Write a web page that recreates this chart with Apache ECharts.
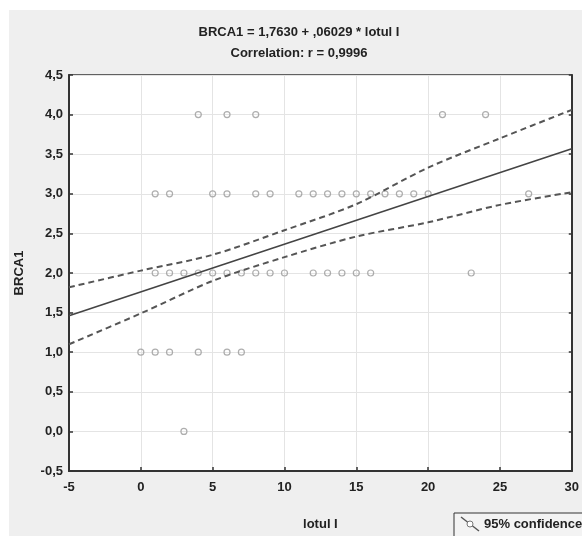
<!DOCTYPE html>
<html>
<head>
<meta charset="utf-8">
<script src="https://cdn.jsdelivr.net/npm/echarts@6/dist/echarts.min.js"></script>
<style>
html,body{margin:0;padding:0;background:#ffffff;}
#chart{width:582px;height:536px;}
</style>
</head>
<body>
<div id="chart"></div>
<script>
// Observed points, grouped by BRCA1 value
const lotulAt4 = [4, 6, 8, 21, 24];
const lotulAt3 = [1, 2, 5, 6, 8, 9, 11, 12, 13, 14, 15, 16, 17, 18, 19, 20, 27];
const lotulAt2 = [1, 2, 3, 4, 5, 6, 7, 8, 9, 10, 12, 13, 14, 15, 16, 23];
const lotulAt1 = [0, 1, 2, 4, 6, 7];
const lotulAt0 = [3];

const fitX = [-5, 30];
const fitY = [1.46, 3.57];

// 95% confidence band
const bandX = [-5, 0, 5, 10, 15, 20, 25, 30];
const bandUpper = [1.82, 2.03, 2.23, 2.54, 2.87, 3.33, 3.70, 4.06];
const bandLower = [1.10, 1.49, 1.90, 2.20, 2.46, 2.64, 2.86, 3.02];

// Axis ticks
const xMin = -5, xMax = 30, xStep = 5;
const yMin = -0.5, yMax = 4.5, yStep = 0.5;

const titleLine1 = 'BRCA1 = 1,7630 + ,06029 * lotul I';
const titleLine2 = 'Correlation: r = 0,9996';

const pts = [];
[[4, lotulAt4], [3, lotulAt3], [2, lotulAt2], [1, lotulAt1], [0, lotulAt0]].forEach(([y, xs]) => {
  xs.forEach(x => pts.push([x, y]));
});
const zip = (a, b) => a.map((v, i) => [v, b[i]]);

const FONT = '"Liberation Sans", Arial, sans-serif';
const TXT = '#222';
const chart = echarts.init(document.getElementById('chart'), null, {renderer: 'canvas'});
const option = {
  backgroundColor: '#ffffff',
  animation: false,
  textStyle: {fontFamily: FONT},
  graphic: [
    {type: 'rect', z: -100, shape: {x: 9, y: 10, width: 573, height: 526}, style: {fill: '#efefef'}},
    {type: 'text', x: 299, y: 32, style: {text: titleLine1, font: 'bold 13px ' + FONT, fill: TXT, textAlign: 'center', textVerticalAlign: 'middle'}},
    {type: 'text', x: 299, y: 53, style: {text: titleLine2, font: 'bold 13px ' + FONT, fill: TXT, textAlign: 'center', textVerticalAlign: 'middle'}},
    {type: 'rect', shape: {x: 454, y: 513, width: 140, height: 30}, style: {fill: '#f3f3f3', stroke: '#333', lineWidth: 1}},
    {type: 'line', shape: {x1: 461, y1: 517, x2: 479, y2: 531}, style: {stroke: '#555', lineWidth: 1.5}},
    {type: 'circle', shape: {cx: 470, cy: 524, r: 3}, style: {fill: '#fff', stroke: '#777', lineWidth: 1}},
    {type: 'text', x: 484, y: 524, style: {text: '95% confidence', font: 'bold 13px ' + FONT, fill: TXT, textAlign: 'left', textVerticalAlign: 'middle'}}
  ],
  grid: {left: 69, right: 9, top: 75, bottom: 61, show: true, backgroundColor: '#ffffff', borderColor: '#333', borderWidth: 1.5},
  xAxis: {
    type: 'value', min: xMin, max: xMax, interval: xStep,
    name: 'lotul I', nameLocation: 'middle', nameGap: 47,
    nameTextStyle: {fontSize: 13, fontWeight: 'bold', color: TXT, fontFamily: FONT},
    axisLine: {show: true, onZero: false, lineStyle: {color: '#333', width: 2}},
    axisTick: {show: true, inside: true, length: 4, lineStyle: {color: '#333', width: 1.5}},
    axisLabel: {fontSize: 13, fontWeight: 'bold', color: TXT, margin: 10, fontFamily: FONT},
    splitLine: {show: true, lineStyle: {color: '#e4e4e4', width: 1}}
  },
  yAxis: [{
    type: 'value', min: yMin, max: yMax, interval: yStep,
    name: 'BRCA1', nameLocation: 'middle', nameGap: 43, nameRotate: 90,
    nameTextStyle: {fontSize: 13, fontWeight: 'bold', color: TXT, fontFamily: FONT},
    axisLine: {show: true, onZero: false, lineStyle: {color: '#333', width: 2}},
    axisTick: {show: true, inside: true, length: 4, lineStyle: {color: '#333', width: 1.5}},
    axisLabel: {fontSize: 13, fontWeight: 'bold', color: TXT, margin: 6, fontFamily: FONT,
      formatter: v => v.toFixed(1).replace('.', ',')},
    splitLine: {show: true, lineStyle: {color: '#e4e4e4', width: 1}}
  }, {
    type: 'value', min: yMin, max: yMax, interval: yStep, position: 'right',
    axisLine: {show: true, onZero: false, lineStyle: {color: '#333', width: 2}},
    axisTick: {show: true, inside: true, length: 3, lineStyle: {color: '#333', width: 1.5}},
    axisLabel: {show: false}, splitLine: {show: false}
  }],
  series: [
    {type: 'scatter', data: pts, symbol: 'circle', symbolSize: 6,
      itemStyle: {color: 'rgba(255,255,255,0)', borderColor: '#9a9a9a', borderWidth: 1.2}, z: 3},
    {type: 'line', data: zip(fitX, fitY), showSymbol: false, symbol: 'none',
      lineStyle: {color: '#444', width: 1.6, type: 'solid'}, z: 4},
    {type: 'line', data: zip(bandX, bandUpper), showSymbol: false, symbol: 'none', smooth: 0.3,
      lineStyle: {color: '#555', width: 2, type: [6, 4]}, z: 4},
    {type: 'line', data: zip(bandX, bandLower), showSymbol: false, symbol: 'none', smooth: 0.3,
      lineStyle: {color: '#555', width: 2, type: [6, 4]}, z: 4}
  ]
};
chart.setOption(option);
</script>
</body>
</html>
